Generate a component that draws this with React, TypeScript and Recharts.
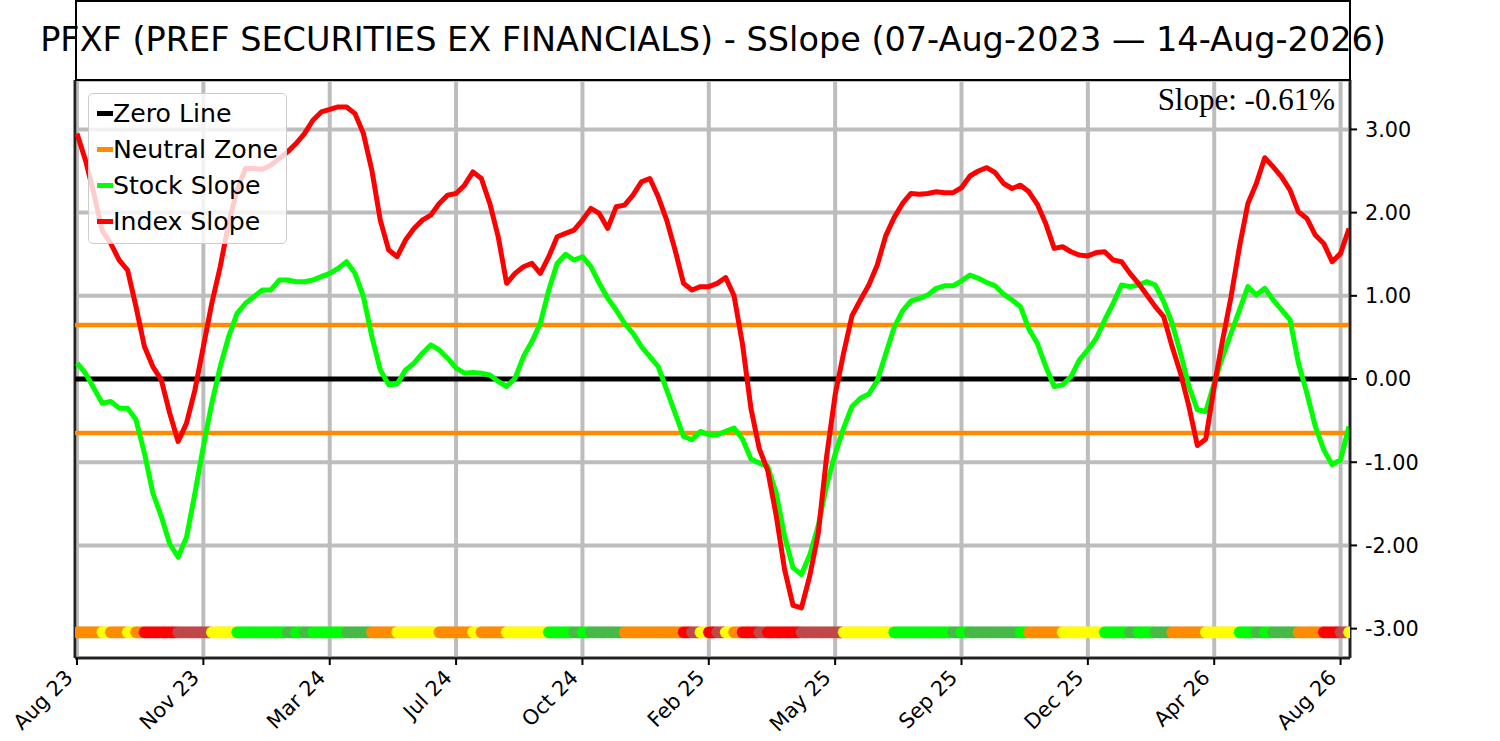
import React from "react";
import {
  ComposedChart,
  Line,
  XAxis,
  YAxis,
  CartesianGrid,
  ReferenceLine,
} from "recharts";

// ---- data (one sample every 5 trading days, starting 07-Aug-2023) ----
const DAY_STEP = 5;

const indexSlope = [
  2.95, 2.63, 2.23, 1.78, 1.63, 1.43, 1.31, 0.87, 0.39, 0.15,
  -0.01, -0.41, -0.75, -0.53, -0.13, 0.39, 0.91, 1.35, 1.87, 2.27,
  2.53, 2.53, 2.52, 2.57, 2.65, 2.73, 2.83, 2.95, 3.11, 3.21,
  3.24, 3.27, 3.27, 3.19, 2.95, 2.51, 1.91, 1.55, 1.47, 1.67,
  1.81, 1.91, 1.97, 2.11, 2.21, 2.23, 2.33, 2.49, 2.41, 2.11,
  1.71, 1.15, 1.27, 1.35, 1.39, 1.27, 1.47, 1.71, 1.75, 1.79,
  1.91, 2.05, 1.99, 1.81, 2.07, 2.09, 2.21, 2.37, 2.41, 2.19,
  1.91, 1.55, 1.15, 1.07, 1.11, 1.11, 1.15, 1.22, 1.0, 0.42,
  -0.35, -0.84, -1.1, -1.64, -2.29, -2.72, -2.75, -2.36, -1.85, -0.92,
  -0.19, 0.31, 0.76, 0.95, 1.13, 1.37, 1.72, 1.94, 2.11, 2.23,
  2.22, 2.23, 2.25, 2.24, 2.24, 2.3, 2.44, 2.5, 2.54, 2.48,
  2.35, 2.29, 2.33, 2.25, 2.1, 1.87, 1.57, 1.59, 1.53, 1.49,
  1.48, 1.52, 1.53, 1.43, 1.41, 1.27, 1.15, 1.01, 0.87, 0.75,
  0.39, 0.07, -0.33, -0.8, -0.72, -0.09, 0.47, 0.99, 1.59, 2.11,
  2.35, 2.66, 2.55, 2.43, 2.27, 2.01, 1.93, 1.73, 1.63, 1.41,
  1.51, 1.81,
];

const stockSlope = [
  0.19, 0.07, -0.11, -0.29, -0.27, -0.35, -0.35, -0.49, -0.89, -1.37,
  -1.65, -1.98, -2.14, -1.9, -1.37, -0.81, -0.29, 0.15, 0.51, 0.79,
  0.91, 0.99, 1.07, 1.07, 1.19, 1.19, 1.17, 1.17, 1.19, 1.23,
  1.27, 1.33, 1.41, 1.27, 0.99, 0.51, 0.11, -0.07, -0.06, 0.11,
  0.19, 0.31, 0.41, 0.35, 0.25, 0.13, 0.07, 0.08, 0.07, 0.05,
  -0.03, -0.09, 0.01, 0.27, 0.45, 0.67, 1.07, 1.39, 1.5, 1.43,
  1.47, 1.35, 1.15, 0.97, 0.83, 0.67, 0.55, 0.39, 0.27, 0.15,
  -0.13, -0.41, -0.69, -0.73, -0.63, -0.67, -0.67, -0.63, -0.59, -0.72,
  -0.96, -1.01, -1.05, -1.37, -1.89, -2.27, -2.35, -2.11, -1.76, -1.27,
  -0.9, -0.59, -0.33, -0.23, -0.18, -0.02, 0.3, 0.62, 0.82, 0.94,
  0.97, 1.01, 1.09, 1.12, 1.12, 1.18, 1.25, 1.21, 1.16, 1.12,
  1.02, 0.95, 0.87, 0.6, 0.43, 0.15, -0.09, -0.07, 0.03, 0.23,
  0.35, 0.49, 0.71, 0.91, 1.13, 1.11, 1.13, 1.17, 1.13, 0.93,
  0.67, 0.31, -0.09, -0.37, -0.39, -0.05, 0.27, 0.55, 0.83, 1.11,
  1.01, 1.09, 0.95, 0.83, 0.71, 0.19, -0.17, -0.57, -0.85, -1.03,
  -0.97, -0.57,
];

// state of each sample: O neutral falling, Y neutral rising, R weak falling,
// B weak rising, G strong rising, D strong falling
const bandStates = (
  "OOOYOOYO" + "RRRRBBBB" + "YYY" + "GGGGGG" + "DGD" + "GGGG" + "DDD" + "OOO" +
  "YYYYY" + "OOOO" + "Y" + "OOO" + "YYYYY" + "GGG" + "DG" + "DDDD" + "OOOOOOO" +
  "RBYRBYO" + "RR" + "B" + "RRRR" + "BBBBB" + "YYYYYY" + "GGGGGGG" + "DG" +
  "DDDDDD" + "G" + "OOOO" + "YYYYY" + "GGG" + "D" + "GG" + "DD" + "OOOO" +
  "YYYY" + "GG" + "DG" + "DDD" + "OOO" + "RR" + "BY"
).split("");

const tickDays = [0, 75, 150, 225, 300, 375, 450, 525, 600, 675, 750];
const tickLabels = [
  "Aug 23", "Nov 23", "Mar 24", "Jul 24", "Oct 24", "Feb 25",
  "May 25", "Sep 25", "Dec 25", "Apr 26", "Aug 26",
];
const yTicks = [-3, -2, -1, 0, 1, 2, 3];
const neutralLevel = 0.65;
const bandLevel = -3.045;
const titleText =
  "PFXF (PREF SECURITIES EX FINANCIALS) - SSlope (07-Aug-2023 \u2014 14-Aug-2026)";
const slopeText = "Slope: -0.61%";

const legendItems = [
  { label: "Zero Line", color: "#000000" },
  { label: "Neutral Zone", color: "#ff8c00" },
  { label: "Stock Slope", color: "#00ff00" },
  { label: "Index Slope", color: "#ff0000" },
];

const stateColors: Record<string, string> = {
  O: "#ff8c00",
  Y: "#ffff00",
  R: "#ff0000",
  B: "#c04848",
  G: "#00ff00",
  D: "#46b946",
};

const rows = indexSlope.map((v, k) => ({
  day: k * DAY_STEP,
  index: v,
  stock: stockSlope[k],
  band: bandLevel,
  state: bandStates[k],
}));

const X_DOMAIN: [number, number] = [-1.2, 755.6];
const Y_DOMAIN: [number, number] = [-3.353, 3.594];
const FONT = "'DejaVu Sans', sans-serif";
const DOT_R = 5.8;

const XTick = (props: any) => {
  const { x, y, payload } = props;
  const i = tickDays.indexOf(payload.value);
  return (
    <g transform={`translate(${x - 3},${y + 12})`}>
      <text
        x={0}
        y={0}
        textAnchor="end"
        transform="rotate(-45)"
        fontSize={20.8}
        fontFamily={FONT}
        fill="#000"
      >
        {i >= 0 ? tickLabels[i] : ""}
      </text>
    </g>
  );
};

// each sample stands for DAY_STEP consecutive daily dots: draw their union
// (a stadium shape spanning from the first to the last day of the sample)
const BandDot = (props: any) => {
  const { cx, cy, payload, index, points } = props;
  if (cx == null || cy == null) return null;
  let step = 8.42;
  if (Array.isArray(points) && points.length > 1) {
    const a = points[0];
    const b = points[1];
    if (a && b && b.x != null && a.x != null) step = b.x - a.x;
  }
  const span = (step * (DAY_STEP - 1)) / DAY_STEP;
  return (
    <rect
      key={`b${index}`}
      x={cx - DOT_R}
      y={cy - DOT_R}
      width={span + 2 * DOT_R}
      height={2 * DOT_R}
      rx={DOT_R}
      ry={DOT_R}
      fill={stateColors[payload.state] || "#888"}
      stroke="none"
    />
  );
};

export default function App() {
  return (
    <div
      style={{
        position: "absolute",
        left: 0,
        top: 0,
        width: 1500,
        height: 741,
        background: "#fff",
        fontFamily: FONT,
      }}
    >
      <ComposedChart
        width={1500}
        height={741}
        data={rows}
        margin={{ top: 80, right: 0, bottom: 0, left: 75 }}
      >
        <CartesianGrid stroke="#bdbdbd" strokeWidth={4} />
        <XAxis
          dataKey="day"
          type="number"
          domain={X_DOMAIN}
          allowDataOverflow
          ticks={tickDays}
          interval={0}
          height={83}
          tickSize={7}
          tickMargin={2}
          tickLine={{ stroke: "#000", strokeWidth: 2 }}
          axisLine={{ stroke: "#222", strokeWidth: 2.5 }}
          tick={<XTick />}
        />
        <YAxis
          orientation="right"
          type="number"
          domain={Y_DOMAIN}
          allowDataOverflow
          ticks={yTicks}
          interval={0}
          width={150}
          tickSize={7}
          tickMargin={8}
          tickFormatter={(v: number) => v.toFixed(2)}
          tick={{ fill: "#000", fontSize: 20.8, fontFamily: FONT }}
          tickLine={{ stroke: "#000", strokeWidth: 2 }}
          axisLine={{ stroke: "#222", strokeWidth: 2.5 }}
        />
        <ReferenceLine x={X_DOMAIN[0]} stroke="#222" strokeWidth={2.5} />
        <ReferenceLine y={neutralLevel} stroke="#ff8c00" strokeWidth={4.5} />
        <ReferenceLine y={-neutralLevel} stroke="#ff8c00" strokeWidth={4.5} />
        <ReferenceLine y={0} stroke="#000" strokeWidth={5} />
        <Line
          dataKey="stock"
          type="linear"
          stroke="#00ff00"
          strokeWidth={5}
          strokeLinejoin="round"
          dot={false}
          activeDot={false}
          isAnimationActive={false}
        />
        <Line
          dataKey="index"
          type="linear"
          stroke="#ff0000"
          strokeWidth={5}
          strokeLinejoin="round"
          dot={false}
          activeDot={false}
          isAnimationActive={false}
        />
        <Line
          dataKey="band"
          type="linear"
          stroke="none"
          strokeWidth={0}
          dot={(p: any) => <BandDot {...p} />}
          activeDot={false}
          isAnimationActive={false}
        />
      </ComposedChart>

      {/* title box */}
      <div
        style={{
          position: "absolute",
          left: 75,
          top: 0,
          width: 1276,
          height: 81,
          border: "2px solid #000",
          boxSizing: "border-box",
          background: "#fff",
        }}
      />
      <div
        style={{
          position: "absolute",
          left: 75,
          top: 0,
          width: 1276,
          height: 80,
          display: "flex",
          justifyContent: "center",
          alignItems: "center",
          whiteSpace: "nowrap",
          fontSize: 33.5,
          lineHeight: "80px",
          color: "#000",
          fontFamily: FONT,
        }}
      >
        <span>{titleText}</span>
      </div>

      {/* slope annotation */}
      <div
        style={{
          position: "absolute",
          left: 0,
          top: 84,
          width: 1335,
          textAlign: "right",
          fontFamily: "'Liberation Serif', 'Times New Roman', serif",
          fontSize: 31,
          lineHeight: "31px",
          color: "#000",
          whiteSpace: "nowrap",
        }}
      >
        {slopeText}
      </div>

      {/* legend */}
      <div
        style={{
          position: "absolute",
          left: 88,
          top: 93,
          width: 199,
          height: 151,
          boxSizing: "border-box",
          border: "1.5px solid #cccccc",
          borderRadius: 5,
          background: "rgba(255,255,255,0.8)",
          paddingTop: 1,
        }}
      >
        {legendItems.map((it) => (
          <div
            key={it.label}
            style={{
              display: "flex",
              alignItems: "center",
              height: 36,
              fontSize: 25.2,
              fontFamily: FONT,
              color: "#000",
              whiteSpace: "nowrap",
            }}
          >
            <span
              style={{
                display: "inline-block",
                width: 16,
                height: 5,
                marginLeft: 8,
                background: it.color,
              }}
            />
            <span>{it.label}</span>
          </div>
        ))}
      </div>
    </div>
  );
}
